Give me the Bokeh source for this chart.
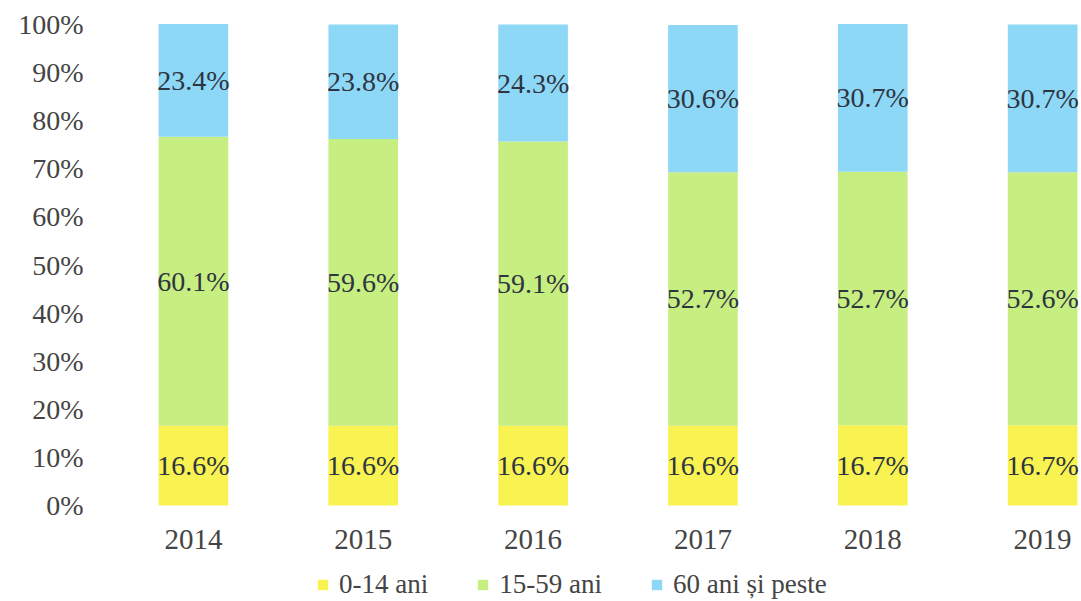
from bokeh.plotting import figure
from bokeh.models import ColumnDataSource, Range1d, FixedTicker, Legend, LegendItem
from bokeh.core.properties import value
from bokeh.embed import file_html
from bokeh.resources import INLINE

years = [2014, 2015, 2016, 2017, 2018, 2019]
age_0_14 = [16.6, 16.6, 16.6, 16.6, 16.7, 16.7]
age_15_59 = [60.1, 59.6, 59.1, 52.7, 52.7, 52.6]
age_60_plus = [23.4, 23.8, 24.3, 30.6, 30.7, 30.7]
series_names = ["0-14 ani", "15-59 ani", "60 ani și peste"]
colors = ["#F8F350", "#C7EE80", "#8DD8F7"]
y_ticks = [0, 10, 20, 30, 40, 50, 60, 70, 80, 90, 100]

FONT = "Liberation Serif"

src = ColumnDataSource(dict(x=years, a=age_0_14, b=age_15_59, c=age_60_plus))

p = figure(output_backend="svg", toolbar_location=None,
           frame_width=981, frame_height=587,
           x_range=Range1d(2013.453, 2019.229), y_range=Range1d(-19.96, 102.1),
           min_border_left=100, min_border_right=0, min_border_top=14,
           min_border_bottom=0)
p.background_fill_color = "white"
p.border_fill_color = "white"
p.outline_line_color = None
p.grid.visible = False

rs = p.vbar_stack(["a", "b", "c"], x="x", width=0.41, source=src,
                  color=colors, line_color=None)

# data labels at segment centers
lx, ly, lt = [], [], []
for i, yr in enumerate(years):
    base = 0.0
    for vals in (age_0_14, age_15_59, age_60_plus):
        v = vals[i]
        lx.append(yr)
        ly.append(base + v / 2.0)
        lt.append(f"{v:.1f}%")
        base += v
lsrc = ColumnDataSource(dict(x=lx, y=ly, t=lt))
p.text(x="x", y="y", text="t", source=lsrc, text_align="center",
       text_baseline="middle", text_font=value(FONT),
       text_font_size="28px", text_color="#2e3440")

# axes
p.yaxis.ticker = FixedTicker(ticks=y_ticks)
p.yaxis.major_label_overrides = {t: f"{t}%" for t in y_ticks}
p.xaxis.ticker = FixedTicker(ticks=years)
p.xaxis.major_label_overrides = {y: str(y) for y in years}
p.xaxis.fixed_location = 0
for ax in (p.xaxis[0], p.yaxis[0]):
    ax.axis_line_color = None
    ax.major_tick_line_color = None
    ax.minor_tick_line_color = None
    ax.major_label_text_font = FONT
    ax.major_label_text_color = "#444444"
p.yaxis.major_label_text_font_size = "28px"
p.yaxis.major_label_standoff = 11
p.xaxis.major_label_text_font_size = "29px"
p.xaxis.major_label_standoff = 18

legend = Legend(items=[LegendItem(label=series_names[i], renderers=[rs[i]]) for i in range(3)],
                orientation="horizontal", location=(216, 1),
                label_text_font="'Liberation Serif', serif", label_text_font_size="27px",
                label_text_color="#444444",
                glyph_width=13, glyph_height=13, spacing=48, label_standoff=10,
                border_line_color=None, background_fill_alpha=0,
                padding=0, margin=0)
p.add_layout(legend, "center")

open("out.html", "w").write(file_html(p, INLINE))
